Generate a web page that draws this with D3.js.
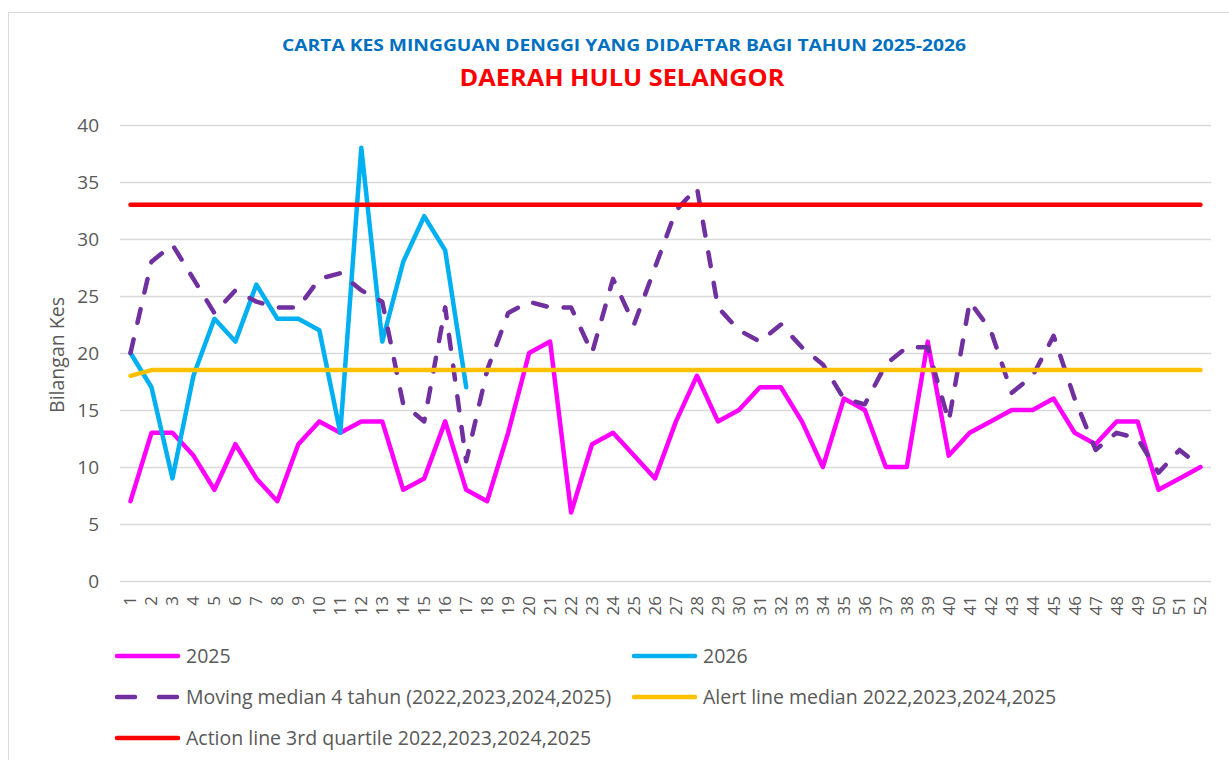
<!DOCTYPE html>
<html>
<head>
<meta charset="utf-8">
<script src="https://cdn.jsdelivr.net/npm/d3@7"></script>
<style>
  html, body { margin: 0; padding: 0; background: #fff; }
  svg { display: block; font-family: "Open Sans", "DejaVu Sans", sans-serif; }
</style>
</head>
<body>
<svg id="chart" width="1229" height="760"></svg>
<script>
// weekly registered dengue cases, epid weeks 1..52
const weeks = d3.range(1, 53);
const cases2025 = [7, 13, 13, 11, 8, 12, 9, 7, 12, 14, 13, 14, 14, 8, 9, 14, 8, 7, 13, 20,
  21, 6, 12, 13, 11, 9, 14, 18, 14, 15, 17, 17, 14, 10, 16, 15, 10, 10, 21, 11,
  13, 14, 15, 15, 16, 13, 12, 14, 14, 8, 9, 10];
const cases2026 = [20, 17, 9, 18, 23, 21, 26, 23, 23, 22, 13, 38, 21, 28, 32, 29, 17];
const movingMedian = [20, 28, 29.5, 26.5, 23.5, 25.5, 24.5, 24, 24, 26.5, 27, 25.5, 24.5, 15.5, 14, 24,
  10.5, 18.5, 23.5, 24.5, 24, 24, 20, 26.5, 22.5, 27.5, 32.5, 34.5, 24, 22, 21, 22.5,
  20.5, 19, 16, 15.5, 19, 20.5, 20.5, 14, 24.5, 22, 16.5, 18, 21.5, 16, 11.5, 13,
  12.5, 9.5, 11.5, 10];
const alertLine = [18].concat(d3.range(51).map(() => 18.5));
const actionLine = weeks.map(() => 33);
const yTicks = [0, 5, 10, 15, 20, 25, 30, 35, 40];

const series = [
  { name: "2025", values: cases2025, color: "#FF00FF" },
  { name: "2026", values: cases2026, color: "#00B0F0" },
  { name: "Moving median 4 tahun (2022,2023,2024,2025)", values: movingMedian, color: "#7030A0", dash: true },
  { name: "Alert line median 2022,2023,2024,2025", values: alertLine, color: "#FFC000" },
  { name: "Action line 3rd quartile 2022,2023,2024,2025", values: actionLine, color: "#FF0000" }
];

const svg = d3.select("#chart");
const grey = "#595959";

// chart frame
svg.append("rect")
  .attr("x", 8.5).attr("y", 12.5)
  .attr("width", 1240).attr("height", 760)
  .attr("fill", "#fff")
  .attr("stroke", "#d9d9d9");

const x = d3.scaleBand().domain(weeks).range([120, 1211]);
const y = d3.scaleLinear().domain([0, 40]).range([581, 125]);

// titles
svg.append("text")
  .attr("x", 624).attr("y", 51)
  .attr("text-anchor", "middle")
  .attr("font-size", 16).attr("font-weight", "bold")
  .attr("fill", "#0070C0")
  .attr("textLength", 684).attr("lengthAdjust", "spacingAndGlyphs")
  .text("CARTA KES MINGGUAN DENGGI YANG DIDAFTAR BAGI TAHUN 2025-2026");

svg.append("text")
  .attr("x", 622).attr("y", 86)
  .attr("text-anchor", "middle")
  .attr("font-size", 24).attr("font-weight", "bold")
  .attr("fill", "#FF0000")
  .attr("textLength", 325).attr("lengthAdjust", "spacingAndGlyphs")
  .text("DAERAH HULU SELANGOR");

// gridlines + y axis
const yAxis = svg.append("g")
  .attr("transform", "translate(120,0)")
  .call(d3.axisLeft(y).tickValues(yTicks).tickSize(-1091).tickPadding(21));
yAxis.select(".domain").remove();
yAxis.selectAll(".tick line").attr("stroke", "#d9d9d9").attr("stroke-width", 1.5);
yAxis.selectAll(".tick text")
  .attr("fill", grey).attr("font-size", 19)
  .attr("font-family", "Open Sans, sans-serif");

// x axis, rotated week labels
const xAxis = svg.append("g")
  .attr("transform", "translate(0,581)")
  .call(d3.axisBottom(x).tickSize(0));
xAxis.select(".domain").remove();
xAxis.selectAll(".tick text")
  .attr("fill", grey).attr("font-size", 17)
  .attr("font-family", "Open Sans, sans-serif")
  .attr("transform", "rotate(-90)")
  .attr("text-anchor", "end")
  .attr("x", -15).attr("y", 0).attr("dy", "0.35em");

svg.append("text")
  .attr("transform", "translate(64,355) rotate(-90)")
  .attr("text-anchor", "middle")
  .attr("font-size", 19.5).attr("fill", grey)
  .text("Bilangan Kes");

// series lines
const line = d3.line()
  .x((d, i) => x(weeks[i]) + x.bandwidth() / 2)
  .y(d => y(d));

series.forEach(s => {
  svg.append("path")
    .datum(s.values)
    .attr("d", line)
    .attr("fill", "none")
    .attr("stroke", s.color)
    .attr("stroke-width", 4.5)
    .attr("stroke-linejoin", "round")
    .attr("stroke-linecap", "round")
    .attr("stroke-dasharray", s.dash ? "14,17" : null);
});

// legend, two columns
const legendPos = [[115, 656], [632, 656], [115, 697], [632, 697], [115, 738]];
series.forEach((s, i) => {
  let [lx, ly] = legendPos[i];
  let g = svg.append("g").attr("transform", `translate(${lx},${ly})`);
  if (s.dash) {
    [[2, 20], [44, 62]].forEach(([a, b]) => {
      g.append("line")
        .attr("x1", a).attr("x2", b).attr("y1", 0).attr("y2", 0)
        .attr("stroke", s.color).attr("stroke-width", 4.5)
        .attr("stroke-linecap", "round");
    });
  } else {
    g.append("line")
      .attr("x1", 2).attr("x2", 63).attr("y1", 0).attr("y2", 0)
      .attr("stroke", s.color).attr("stroke-width", 4.5)
      .attr("stroke-linecap", "round");
  }
  g.append("text")
    .attr("x", 71).attr("y", 0).attr("dy", "0.35em")
    .attr("font-size", 19.5).attr("fill", grey)
    .text(s.name);
});
</script>
</body>
</html>
